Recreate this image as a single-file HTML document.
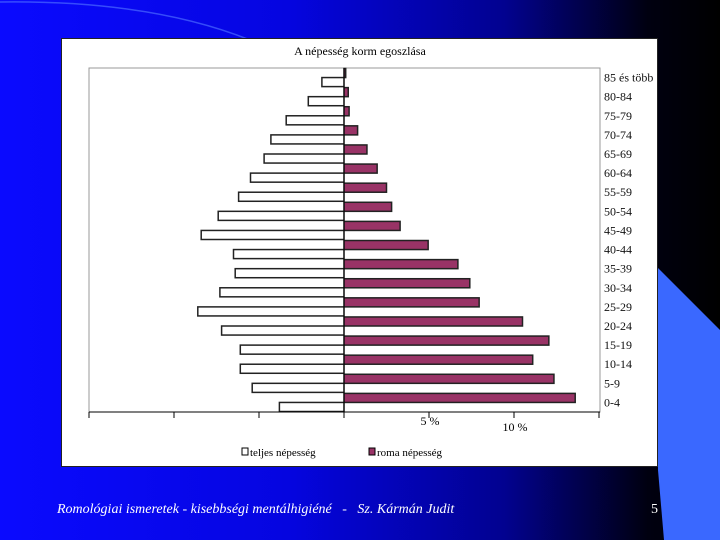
<!DOCTYPE html>
<html><head><meta charset="utf-8"><style>
body{margin:0;width:720px;height:540px;overflow:hidden;background:linear-gradient(90deg,#0a0aff 0%,#0505e0 40%,#020290 70%,#000010 90%,#000 100%);position:relative;font-family:"Liberation Serif",serif}
#chart{position:absolute;left:61px;top:38px;width:597px;height:429px;background:#fff;border:1px solid #222;box-sizing:border-box}
.foot{position:absolute;top:502px;color:#fff;font-style:italic;font-size:14px}
</style></head><body>
<svg width="720" height="540" style="position:absolute;left:0;top:0">
<path d="M0,2 Q150,0 250,40" stroke="#4a6aff" stroke-width="1.5" fill="none" opacity="0.7"/>
<polygon points="658,268 720,330 720,540 664,540 658,470" fill="#3a68ff"/>
</svg>
<div id="chart">
<svg id="svg" width="597" height="429" font-family="Liberation Serif, serif"></svg>
</div>
<div class="foot" style="left:57px">Romológiai ismeretek - kisebbségi mentálhigiéné &nbsp; - &nbsp; Sz. Kármán Judit</div>
<div class="foot" style="left:651px;font-style:normal">5</div>
<script>
const categories=["0-4","5-9","10-14","15-19","20-24","25-29","30-34","35-39","40-44","45-49","50-54","55-59","60-64","65-69","70-74","75-79","80-84","85 és több"];
const teljes=[3.8,5.4,6.1,6.1,7.2,8.6,7.3,6.4,6.5,8.4,7.4,6.2,5.5,4.7,4.3,3.4,2.1,1.3];
const roma=[13.6,12.35,11.1,12.05,10.5,7.95,7.4,6.7,4.95,3.3,2.8,2.5,1.95,1.35,0.8,0.3,0.25,0.1];
const tickLabels=[["5 %",5],["10 %",10]];
const ticks=[-15,-10,-5,0,5,10,15];
const svg=document.getElementById('svg');
const NS='http://www.w3.org/2000/svg';
const ox=61,oy=38;
const x0=343-ox, pxPer=17, pTop=67-oy, pBot=411-oy, pLeft=88-ox, pRight=599-ox;
const band=(pBot-pTop)/categories.length;
const X=v=>x0+v*pxPer;
function el(t,a,p){const e=document.createElementNS(NS,t);for(const k in a)e.setAttribute(k,a[k]);(p||svg).appendChild(e);return e;}
let t=el('text',{x:298,y:16,'text-anchor':'middle','font-size':12});t.textContent='A népesség korm egoszlása';


let fr=el('rect',{x:pLeft,y:pTop,width:pRight-pLeft,height:pBot-pTop,fill:'none',stroke:'#999'});


categories.forEach((c,i)=>{
 const yb=pBot-(i+1)*band;
 const r=el('rect',{x:X(0),y:yb+0.5,width:X(roma[i])-X(0),height:band/2-0.5,fill:'#993366',stroke:'#222','stroke-width':1.5});
 
 
 const tl=el('rect',{x:X(-teljes[i]),y:yb+band/2,width:X(0)-X(-teljes[i]),height:band/2-0.5,fill:'#fff',stroke:'#222','stroke-width':1.5});
 
 
 const lb=el('text',{x:pRight+4,y:yb+band/2+4,'font-size':12,fill:'#111'});lb.textContent=c;
 
 
});
el('line',{x1:X(0),y1:pTop,x2:X(0),y2:pBot,stroke:'#000'});
const ax=el('line',{x1:pLeft,y1:pBot,x2:pRight,y2:pBot,stroke:'#000'});


ticks.forEach(v=>{if(X(v)>=pLeft-1&&X(v)<=pRight+1)el('line',{x1:X(v),y1:pBot,x2:X(v),y2:pBot+6,stroke:'#000'});});
tickLabels.forEach(([s,v],k)=>{const e=el('text',{x:X(v)+1,y:pBot+13+k*6,'text-anchor':'middle','font-size':12});e.textContent=s;
 
 });
let g=el('g',{});


el('rect',{x:180,y:409,width:6,height:7,fill:'#fff',stroke:'#000'},g);
let l1=el('text',{x:188,y:417,'font-size':11},g);l1.textContent='teljes népesség';
el('rect',{x:307,y:409,width:6,height:7,fill:'#993366',stroke:'#000'},g);
let l2=el('text',{x:315,y:417,'font-size':11},g);l2.textContent='roma népesség';
</script>
</body></html>
